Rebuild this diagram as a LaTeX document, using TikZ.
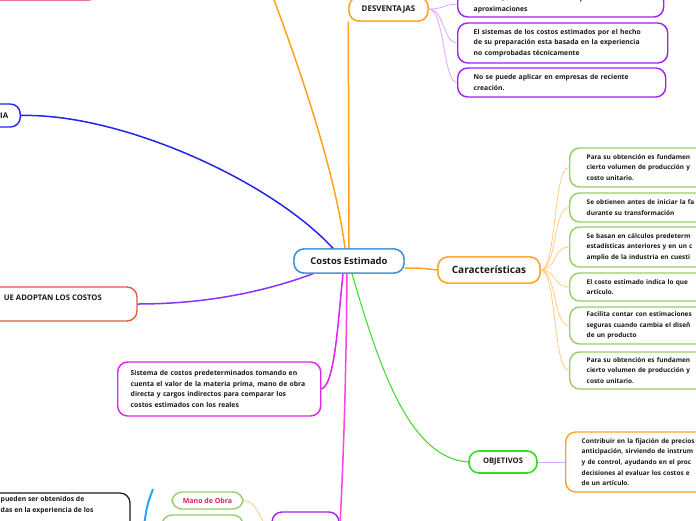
\documentclass[tikz,border=0pt]{standalone}
\usepackage{fontspec}
\setmainfont{Open Sans}
\definecolor{cblue}{HTML}{3B8FD4}
\definecolor{corange}{HTML}{FFA31A}
\definecolor{cpurple}{HTML}{A020F0}
\definecolor{cgreen}{HTML}{99CC66}
\definecolor{cmag}{HTML}{DD22EE}
\definecolor{cred}{HTML}{EE5544}
\definecolor{cdblue}{HTML}{2424EE}
\definecolor{cviolet}{HTML}{8833FF}
\definecolor{cobj}{HTML}{33DD22}
\definecolor{clpurple}{HTML}{DDA8FF}
\definecolor{clorange}{HTML}{FFCC88}
\definecolor{cmano}{HTML}{E0205A}
\definecolor{cpink}{HTML}{FF44DD}
\definecolor{csky}{HTML}{22AAEE}
\definecolor{crose}{HTML}{F07090}
\definecolor{ctext}{HTML}{1A1A1A}
\newcommand{\smallfnt}{\fontsize{6.8}{10.7}\selectfont\bfseries}
\newcommand{\rightfnt}{\fontsize{6.45}{10.7}\selectfont\bfseries}
\begin{document}
\begin{tikzpicture}[x=1pt,y=-1pt,
  box/.style={draw, fill=white, rounded corners=10pt, line width=1.4pt, text=ctext},
  tbox/.style={box, align=left, inner xsep=16pt, inner ysep=0pt, font=\smallfnt, anchor=west},
  gbox/.style={tbox, draw=cgreen, inner xsep=17pt, text width=196, font=\rightfnt},
  title/.style={box, align=center, inner sep=0pt, font=\bfseries},
  main/.style={line width=1.5pt},
  thin/.style={line width=0.8pt}
]
\useasboundingbox (0,0) rectangle (696,520);
\fill[white] (0,0) rectangle (696,520);

\coordinate (topend) at (255,-50);
\coordinate (arcA) at (153,489);
\coordinate (arcB) at (143,532);

\node[box, draw=crose, line width=1.5pt, rounded corners=8pt, minimum width=134, minimum height=30] (pinkbox) at (30,-15) {};

\node[title, draw=cblue, minimum width=110, minimum height=24, font=\fontsize{9.4}{11}\selectfont\bfseries] (central) at (349,261) {Costos Estimado};

% orange line to top and DESVENTAJAS
\draw[corange, main] (central.north) ++(-4,0) coordinate (ctop) .. controls (335,170) and (298,60) .. (topend);
\node[title, draw=corange, minimum width=79, minimum height=24, font=\fontsize{7.9}{9}\selectfont\bfseries] (desv) at (388.5,9) {DESVENTAJAS};
\draw[corange, main] (central.north) -- (desv.south west);
\node[title, draw=corange, minimum width=79, minimum height=24, font=\fontsize{7.9}{9}\selectfont\bfseries] at (388.5,9) {DESVENTAJAS};

\node[tbox, draw=cpurple, text width=174, minimum height=25.5] (d1) at (457,4.25)
  {internas, es decir en forma empírica a través de\\aproximaciones};
\node[tbox, draw=cpurple, text width=178, minimum height=40] (d2) at (457,43)
  {El sistemas de los costos estimados por el hecho\\de su preparación esta basada en la experiencia\\no comprobadas técnicamente};
\node[tbox, draw=cpurple, text width=176, minimum height=29] (d3) at (457,82.5)
  {No se puede aplicar en empresas de reciente\\creación.};
\foreach \t in {d1,d2,d3}{
  \draw[clpurple, thin] (desv.east) .. controls ([xshift=16]desv.east) and ([xshift=-14]\t.west) .. (\t.west);
}

% IA
\node[box, draw=cdblue, anchor=east, text width=80, align=right, inner xsep=12pt, minimum height=23, font=\fontsize{7.9}{9}\selectfont\bfseries] (ia) at (21,115.5) {IA};
\draw[cdblue, main] (ia.east) .. controls (120,113) and (270,180) .. ([xshift=-16]central.north);

% red
\node[box, draw=cred, minimum width=194, minimum height=34] (redbox) at (40,304) {};
\node[anchor=east, inner sep=0pt, font=\fontsize{7.7}{9}\selectfont\bfseries, text=ctext] (redtxt) at (102,298) {UE ADOPTAN LOS COSTOS};
\draw[cviolet, main] (redbox.east) .. controls (220,304) and (280,286) .. ([xshift=-36]central.south);

% magenta
\node[tbox, draw=cmag, inner xsep=13pt, text width=177, minimum height=54] (mag) at (117,389)
  {Sistema de costos predeterminados tomando en\\cuenta el valor de la materia prima, mano de obra\\directa y cargos indirectos para comparar los\\costos estimados con los reales};
\draw[cmag, main] (mag.east) .. controls (335,385) and (338,320) .. ([xshift=-6]central.south);

% bottom purple box
\node[box, draw=cpurple, minimum width=67, minimum height=36] (pbot) at (305.5,530) {};
\draw[cpink, main] ([xshift=-2]central.south) .. controls (346,400) and (342,490) .. (pbot.east);

% Mano de Obra
\node[box, draw=cgreen, minimum width=71, minimum height=17, font=\fontsize{7}{8}\selectfont\bfseries, text=cmano] (mano) at (207.5,500.5) {Mano de Obra};
\node[box, draw=cgreen, minimum width=81, minimum height=30] (gbot) at (202.5,530) {};
\draw[clorange, thin] (mano.east) .. controls (258,500) and (262,528) .. (pbot.west);

% black box
\node[box, draw=ctext, line width=1.2pt, minimum width=180, minimum height=54] (blk) at (40,520) {};
\node[anchor=north west, align=left, inner sep=0pt, font=\smallfnt, text=ctext] (blktxt) at (0.5,496.5) {pueden ser obtenidos de\\das en la experiencia de los};
\draw[csky, line width=2pt] (arcA) .. controls (147,505) .. (arcB);

% Caracteristicas
\node[title, draw=corange, minimum width=102, minimum height=26, font=\fontsize{10}{12}\selectfont\bfseries] (car) at (489,270) {Características};
\draw[corange, main] ([yshift=-7]central.east) .. controls (420,268) .. (car.west);

\node[gbox, minimum height=39] (g1) at (569,167.5)
  {Para su obtención es fundamen\\cierto volumen de producción y\\costo unitario.};
\node[gbox, minimum height=29] (g2) at (569,207.5)
  {Se obtienen antes de iniciar la fa\\durante su transformación};
\node[gbox, minimum height=40] (g3) at (569,247)
  {Se basan en cálculos predeterm\\estadísticas anteriores y en un c\\amplio de la industria en cuesti};
\node[gbox, minimum height=28] (g4) at (569,287)
  {El costo estimado indica lo que\\artículo.};
\node[gbox, minimum height=37] (g5) at (569,325.5)
  {Facilita contar con estimaciones\\seguras cuando cambia el diseñ\\de un producto};
\node[gbox, minimum height=37] (g6) at (569,370.5)
  {Para su obtención es fundamen\\cierto volumen de producción y\\costo unitario.};
\foreach \t in {g1,g2,g3,g4,g5,g6}{
  \draw[clorange, thin] (car.east) .. controls ([xshift=16]car.east) and ([xshift=-16]\t.west) .. (\t.west);
}
\node[title, draw=corange, minimum width=102, minimum height=26, font=\fontsize{10}{12}\selectfont\bfseries] at (489,270) {Características};

% OBJETIVOS
\node[title, draw=cobj, line width=1.6pt, minimum width=68, minimum height=22, font=\fontsize{7.6}{9}\selectfont\bfseries] (obj) at (503,462) {OBJETIVOS};
\draw[cobj, line width=1pt] ([xshift=3]central.south) .. controls (380,370) and (410,458) .. (obj.west);
\node[tbox, draw=corange, text width=180, minimum height=60, font=\rightfnt] (objt) at (565,462)
  {Contribuir en la fijación de precios\\anticipación, sirviendo de instrum\\y de control, ayudando en el proc\\decisiones al evaluar los costos  e\\de un artículo.};
\draw[clpurple, line width=1pt] (obj.east) -- (objt.west);

\node[title, draw=cblue, minimum width=110, minimum height=24, font=\fontsize{9.4}{11}\selectfont\bfseries] at (349,261) {Costos Estimado};
\end{tikzpicture}
\end{document}
